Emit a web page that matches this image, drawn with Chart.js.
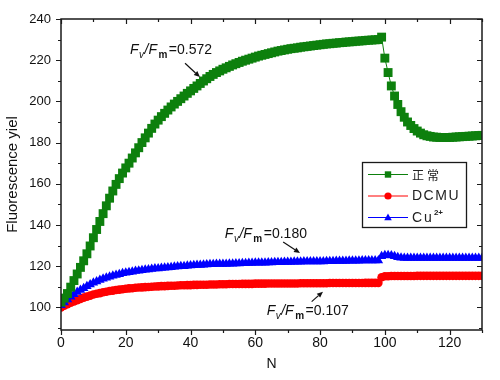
<!DOCTYPE html>
<html><head><meta charset="utf-8">
<script src="https://cdn.jsdelivr.net/npm/chart.js@4.4.0/dist/chart.umd.min.js"></script>
<style>html,body{margin:0;padding:0;background:#fff;}canvas{display:block;}</style>
</head><body>
<canvas id="c" width="500" height="380"></canvas>
<script>
// ---------- data ----------
const seriesNames = ['正常', 'DCMU', 'Cu2+'];

const nValues = [0,1,2,3,4,5,6,7,8,9,10,11,12,13,14,15,16,17,18,19,20,21,22,23,24,25,26,27,28,29,
30,31,32,33,34,35,36,37,38,39,40,41,42,43,44,45,46,47,48,49,50,51,52,53,54,55,56,57,58,59,
60,61,62,63,64,65,66,67,68,69,70,71,72,73,74,75,76,77,78,79,80,81,82,83,84,85,86,87,88,89,
90,91,92,93,94,95,96,97,98,99,100,101,102,103,104,105,106,107,108,109,110,111,112,113,114,115,116,117,118,119,
120,121,122,123,124,125,126,127,128,129,130];

const normalY = [102.5,104.5,106.7,109.8,113,116.2,119.4,122.6,126,129.8,
133.8,137.8,141.7,145.5,149.3,153,156.5,159.7,162.5,165.2,
167.7,170,172.5,175,177.5,180,182.3,184.6,186.9,189,
190.9,192.6,194.2,195.8,197.3,198.7,200,201.3,202.6,203.9,
205.1,206.3,207.5,208.7,209.9,211,212.1,213.1,214,214.8,
215.6,216.3,217,217.7,218.3,218.9,219.5,220,220.5,221,
221.5,222,222.4,222.8,223.2,223.6,224,224.4,224.7,225,
225.3,225.6,225.8,226,226.3,226.5,226.7,226.9,227.1,227.3,
227.5,227.7,227.9,228,228.2,228.3,228.5,228.6,228.8,228.9,
229,229.2,229.3,229.4,229.6,229.7,229.8,229.9,230,231.2,
221,214,207.5,202.6,198.5,195,192.3,190,188.3,186.8,
185.6,184.6,183.8,183.3,183,182.7,182.6,182.5,182.5,182.5,
182.5,182.6,182.7,182.8,182.9,183,183.1,183.2,183.3,183.4,183.5];

const dcmuY = [100,100.8,101.5,102.2,102.9,103.5,104.1,104.7,105.2,105.7,
106.2,106.6,106.9,107.3,107.6,107.9,108.1,108.4,108.6,108.8,
109,109.2,109.3,109.5,109.6,109.7,109.8,109.9,110,110.1,
110.2,110.3,110.3,110.4,110.5,110.5,110.6,110.7,110.7,110.8,
110.8,110.9,110.9,111,111,111,111.1,111.1,111.1,111.2,
111.2,111.2,111.3,111.3,111.3,111.3,111.4,111.4,111.4,111.4,
111.5,111.5,111.5,111.5,111.6,111.6,111.6,111.6,111.6,111.6,
111.6,111.6,111.6,111.6,111.7,111.7,111.7,111.7,111.7,111.7,
111.7,111.7,111.7,111.8,111.8,111.8,111.8,111.8,111.8,111.8,
111.8,111.8,111.8,111.8,111.9,111.9,111.9,111.9,111.9,114.6,
115.1,115.1,115.2,115.2,115.2,115.2,115.2,115.2,115.2,115.2,
115.3,115.3,115.3,115.3,115.3,115.3,115.3,115.3,115.3,115.3,
115.3,115.3,115.3,115.3,115.3,115.3,115.3,115.3,115.3,115.3,115.3];

const cuY = [101,102.4,103.8,105.1,106.3,107.4,108.4,109.3,110.2,111.1,
111.9,112.6,113.3,113.9,114.4,114.9,115.3,115.7,116.1,116.5,
116.8,117.1,117.3,117.6,117.8,118,118.2,118.4,118.6,118.8,
118.9,119.1,119.2,119.4,119.5,119.7,119.8,119.9,120,120.2,
120.3,120.4,120.5,120.6,120.7,120.8,120.9,120.9,121,121,
121.1,121.1,121.2,121.2,121.3,121.3,121.4,121.4,121.5,121.5,
121.6,121.6,121.7,121.7,121.8,121.8,121.9,121.9,121.9,122,
122,122,122.1,122.1,122.1,122.2,122.2,122.2,122.2,122.3,
122.3,122.3,122.4,122.4,122.4,122.5,122.5,122.5,122.5,122.6,
122.6,122.6,122.6,122.7,122.7,122.7,122.7,122.8,122.8,124.8,
125.3,125.3,125.2,124.8,124.3,124.1,124,123.9,123.9,123.9,
123.9,123.9,123.9,123.9,123.9,123.9,123.9,123.9,123.9,123.9,
123.9,123.9,123.9,123.9,123.9,123.9,123.9,123.9,123.9,123.9,123.9];

const xTickLabels = [0,20,40,60,80,100,120];
const xMinorTicks = [10,30,50,70,90,110,130];
const yTickLabels = [100,120,140,160,180,200,220,240];
const yMinorTicks = [90,110,130,150,170,190,210,230];

const ratioLabels = ['0.572', '0.180', '0.107'];
const ratioTextAt = [[21.3, 225.2], [50.6, 136.1], [63.5, 98.5]];
const ratioArrowFrom = [[38.3, 218.5], [68.6, 131.7], [77.4, 102.8]];
const ratioArrowTo = [[42.9, 211.8], [73.8, 126.4], [80.9, 107.6]];

// ---------- build ----------
const colors = ['#0d800d', '#ff0000', '#0000ff'];
const styles = ['rect', 'circle', 'triangle'];
const pts = (xs, ys) => xs.map((x, i) => ({x: x, y: ys[i]}));

const FONT = '"Liberation Sans", Arial, sans-serif';

function drawRatio(ctx, px, py, val) {
  ctx.save();
  ctx.fillStyle = '#111';
  ctx.textBaseline = 'alphabetic';
  ctx.textAlign = 'left';
  const base = py + 5;
  let cx = px;
  ctx.font = 'italic 14px ' + FONT;
  ctx.fillText('F', cx, base); cx += ctx.measureText('F').width + 0.5;
  ctx.font = 'italic 10px ' + FONT;
  ctx.fillText('v', cx, base + 4); cx += ctx.measureText('v').width + 0.5;
  ctx.font = 'italic 14px ' + FONT;
  ctx.fillText('/F', cx, base); cx += ctx.measureText('/F').width + 1.5;
  ctx.font = 'bold 10px ' + FONT;
  ctx.fillText('m', cx, base + 4); cx += ctx.measureText('m').width + 1.5;
  ctx.font = '14px ' + FONT;
  ctx.fillText('=' + val, cx, base);
  ctx.restore();
}

function drawArrow(ctx, x1, y1, x2, y2) {
  ctx.save();
  ctx.strokeStyle = '#111'; ctx.fillStyle = '#111'; ctx.lineWidth = 1.2;
  const ang = Math.atan2(y2 - y1, x2 - x1);
  const hl = 6, hw = 2.6;
  const bx = x2 - hl * Math.cos(ang), by = y2 - hl * Math.sin(ang);
  ctx.beginPath(); ctx.moveTo(x1, y1); ctx.lineTo(bx, by); ctx.stroke();
  ctx.beginPath();
  ctx.moveTo(x2, y2);
  ctx.lineTo(bx + hw * Math.sin(ang), by - hw * Math.cos(ang));
  ctx.lineTo(bx - hw * Math.sin(ang), by + hw * Math.cos(ang));
  ctx.closePath(); ctx.fill();
  ctx.restore();
}

function marker(ctx, style, x, y, r, color) {
  ctx.save();
  ctx.fillStyle = color;
  ctx.beginPath();
  if (style === 'rect') { ctx.rect(x - r, y - r, 2 * r, 2 * r); }
  else if (style === 'circle') { ctx.arc(x, y, r, 0, Math.PI * 2); }
  else { ctx.moveTo(x, y - r * 1.1); ctx.lineTo(x + r * 1.05, y + r * 0.75); ctx.lineTo(x - r * 1.05, y + r * 0.75); ctx.closePath(); }
  ctx.fill();
  ctx.restore();
}

const framePlugin = {
  id: 'frame',
  afterDraw(chart) {
    const ctx = chart.ctx, a = chart.chartArea;
    const xs = chart.scales.x, ys = chart.scales.y;
    ctx.save();
    ctx.strokeStyle = '#1a1a1a';
    ctx.lineWidth = 1.5;
    ctx.strokeRect(a.left, a.top, a.right - a.left, a.bottom - a.top);
    ctx.lineWidth = 1.2;
    ctx.beginPath();
    const tickX = (v, len) => {
      const p = Math.round(xs.getPixelForValue(v)) + 0.5;
      ctx.moveTo(p, a.bottom); ctx.lineTo(p, a.bottom + len);
      ctx.moveTo(p, a.top); ctx.lineTo(p, a.top + len);
    };
    const tickY = (v, len) => {
      const p = Math.round(ys.getPixelForValue(v)) + 0.5;
      ctx.moveTo(a.left, p); ctx.lineTo(a.left - len, p);
      ctx.moveTo(a.right, p); ctx.lineTo(a.right - len, p);
    };
    xTickLabels.forEach(v => tickX(v, 5));
    xMinorTicks.forEach(v => tickX(v, 3));
    yTickLabels.forEach(v => tickY(v, 5));
    yMinorTicks.forEach(v => tickY(v, 3));
    ctx.stroke();
    ctx.restore();

    // annotations
    ratioLabels.forEach((lab, i) => {
      drawRatio(ctx, xs.getPixelForValue(ratioTextAt[i][0]), ys.getPixelForValue(ratioTextAt[i][1]), lab);
      drawArrow(ctx,
        xs.getPixelForValue(ratioArrowFrom[i][0]), ys.getPixelForValue(ratioArrowFrom[i][1]),
        xs.getPixelForValue(ratioArrowTo[i][0]), ys.getPixelForValue(ratioArrowTo[i][1]));
    });

    // legend box
    const bx = a.right - 120, by = a.top + 143, bw = 104, bh = 65;
    ctx.save();
    ctx.fillStyle = '#fff';
    ctx.fillRect(bx, by, bw, bh);
    ctx.strokeStyle = '#1a1a1a'; ctx.lineWidth = 1.3;
    ctx.strokeRect(bx + 0.5, by + 0.5, bw, bh);
    const rows = [by + 12, by + 33.5, by + 55];
    const sizes = [3.2, 3.6, 3.6];
    rows.forEach((ry, i) => {
      ctx.strokeStyle = colors[i]; ctx.lineWidth = 1;
      ctx.beginPath(); ctx.moveTo(bx + 6, ry + 0.5); ctx.lineTo(bx + 46, ry + 0.5); ctx.stroke();
      marker(ctx, styles[i], bx + 26, ry + 0.5, sizes[i], colors[i]);
    });
    ctx.fillStyle = '#222';
    ctx.textBaseline = 'middle'; ctx.textAlign = 'left';
    ctx.font = '12px "Noto Sans CJK SC", sans-serif';
    const cn = seriesNames[0];
    ctx.fillText(cn[0], bx + 50, rows[0] + 1);
    ctx.fillText(cn[1], bx + 65, rows[0] + 1);
    ctx.font = '14px ' + FONT;
    ctx.letterSpacing = '1.5px';
    ctx.fillText(seriesNames[1], bx + 50, rows[1] + 1);
    ctx.letterSpacing = '2px';
    ctx.fillText('Cu', bx + 50, rows[2] + 1);
    const cw = ctx.measureText('Cu').width;
    ctx.letterSpacing = '0px';
    ctx.font = 'bold 8px ' + FONT;
    ctx.fillText('2+', bx + 50 + cw, rows[2] - 4);
    ctx.restore();
  }
};

new Chart(document.getElementById('c'), {
  type: 'line',
  data: {
    datasets: [
      { label: seriesNames[0], data: pts(nValues, normalY), borderColor: colors[0], backgroundColor: colors[0],
        borderWidth: 1, pointStyle: styles[0], pointRadius: 6.3, pointBorderWidth: 0, order: 0, clip: 0 },
      { label: seriesNames[1], data: pts(nValues, dcmuY), borderColor: colors[1], backgroundColor: colors[1],
        borderWidth: 1, pointStyle: styles[1], pointRadius: 4.3, pointBorderWidth: 0, order: 2, clip: 0 },
      { label: seriesNames[2], data: pts(nValues, cuY), borderColor: colors[2], backgroundColor: colors[2],
        borderWidth: 1, pointStyle: styles[2], pointRadius: 5.5, pointBorderWidth: 0, order: 1, clip: 0 }
    ]
  },
  options: {
    responsive: false, animation: false, devicePixelRatio: 1,
    layout: { padding: { left: 0, top: 19, right: 18, bottom: 0 } },
    plugins: { legend: { display: false }, tooltip: { enabled: false } },
    elements: { line: { tension: 0 } },
    scales: {
      x: {
        type: 'linear', min: 0, max: 130,
        grid: { display: false, drawTicks: false }, border: { display: false },
        afterFit(s) { s.height = 50; },
        afterBuildTicks(s) { s.ticks = xTickLabels.map(v => ({ value: v })); },
        ticks: { padding: 5, color: '#111', font: { family: FONT, size: 14 }, maxRotation: 0, autoSkip: false },
        title: { display: true, text: 'N', color: '#111', font: { family: FONT, size: 14 }, padding: { top: 0, bottom: 7 } }
      },
      y: {
        type: 'linear', min: 89, max: 240,
        grid: { display: false, drawTicks: false }, border: { display: false },
        afterFit(s) { s.width = 61; },
        afterBuildTicks(s) { s.ticks = yTickLabels.map(v => ({ value: v })); },
        ticks: { padding: 10, color: '#111', font: { family: FONT, size: 13 }, autoSkip: false },
        title: { display: true, text: 'Fluorescence yiel', color: '#111', font: { family: FONT, size: 15 }, padding: { top: 4, bottom: 0 } }
      }
    }
  },
  plugins: [framePlugin]
});
</script>
</body></html>
